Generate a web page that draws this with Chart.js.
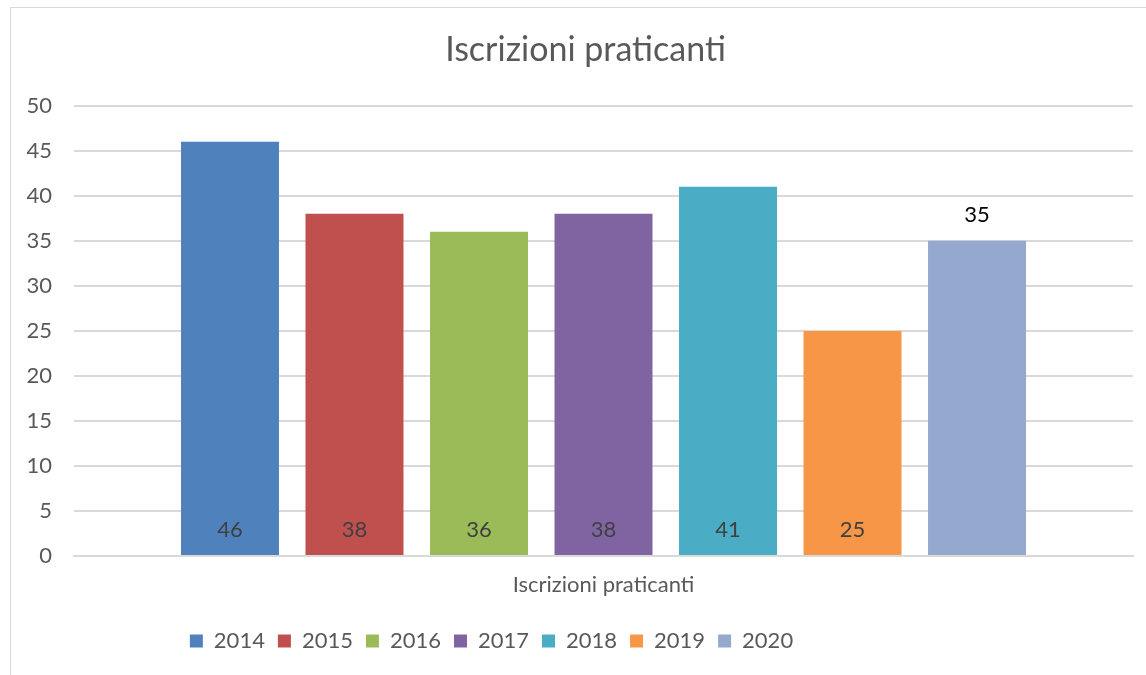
<!DOCTYPE html>
<html>
<head>
<meta charset="utf-8">
<script src="https://cdn.jsdelivr.net/npm/chart.js@4"></script>
<style>
  html, body { margin: 0; padding: 0; background: #fff; }
  #wrap { position: relative; width: 1146px; height: 675px; overflow: hidden; }
  #frame { position: absolute; left: 10px; top: 7px; width: 1150px; height: 700px; border: 1px solid #d9d9d9; box-sizing: border-box; }
  canvas { position: absolute; left: 0; top: 0; }
</style>
</head>
<body>
<div id="wrap">
  <div id="frame"></div>
  <canvas id="myChart" width="1146" height="675"></canvas>
</div>
<script>
var categories = ['Iscrizioni praticanti']
var years = ['2014', '2015', '2016', '2017', '2018', '2019', '2020']
var values = [46, 38, 36, 38, 41, 25, 35]
var yTicks = [0, 5, 10, 15, 20, 25, 30, 35, 40, 45, 50]

var colors = ['#4f81bd', '#c0504d', '#9bbb59', '#8064a2', '#4bacc6', '#f79646', '#95a9cf']
var fontFamily = 'Lato, "Open Sans", sans-serif'

var datasets = []
years.forEach(function(year, i) {
    datasets.push({
        label: year,
        data: [values[i]],
        backgroundColor: colors[i],
        borderWidth: 0,
        // last bar has its label above the bar, like the original
        labelAbove: i === years.length - 1
    })
}, this)

// draw the value labels (no datalabels plugin here)
var valueLabels = {
    id: 'valueLabels',
    afterDatasetsDraw: function(chart) {
        var ctx = chart.ctx
        ctx.save()
        ctx.font = '22px ' + fontFamily
        ctx.textAlign = 'center'
        ctx.textBaseline = 'middle'
        chart.data.datasets.forEach(function(ds, i) {
            var bar = chart.getDatasetMeta(i).data[0]
            if (ds.labelAbove) {
                ctx.fillStyle = '#000000'
                ctx.fillText(ds.data[0], bar.x, bar.y - 26)
            } else {
                ctx.fillStyle = '#404040'
                ctx.fillText(ds.data[0], bar.x, bar.base - 25)
            }
        })
        ctx.restore()
    }
}

// title is a bit right of centre and the legend a bit left in the original
var blockShift = {
    id: 'blockShift',
    afterLayout: function(chart) {
        chart.titleBlock.left += 14
        chart.titleBlock.right += 14
        chart.legend.left -= 80
        chart.legend.right -= 80
    }
}

var ctx = document.getElementById('myChart').getContext('2d')
var myChart = new Chart(ctx, {
    type: 'bar',
    data: {
        labels: categories,
        datasets: datasets
    },
    options: {
        responsive: false,
        animation: false,
        categoryPercentage: 0.823,
        barPercentage: 0.787,
        layout: { padding: { left: 10, right: 13, top: 20, bottom: 13 } },
        scales: {
            x: {
                afterFit: function(scale) { scale.height = 61 },
                grid: { display: false, drawTicks: false },
                border: { display: true, color: '#d9d9d9', width: 2 },
                ticks: { color: '#595959', font: { size: 22, family: fontFamily }, padding: 16 }
            },
            y: {
                min: 0,
                max: 50,
                afterBuildTicks: function(scale) {
                    scale.ticks = yTicks.map(function(v) { return { value: v } })
                },
                afterFit: function(scale) { scale.width = 64 },
                grid: { color: '#d9d9d9', lineWidth: 2, drawTicks: false },
                border: { display: false },
                ticks: { color: '#595959', font: { size: 22, family: fontFamily }, padding: 22 }
            }
        },
        plugins: {
            title: {
                display: true,
                text: 'Iscrizioni praticanti',
                color: '#595959',
                font: { size: 34, family: fontFamily, weight: 'normal' },
                padding: { top: 10, bottom: 35 }
            },
            legend: {
                position: 'bottom',
                labels: {
                    boxWidth: 13,
                    boxHeight: 13,
                    color: '#595959',
                    font: { size: 22, family: fontFamily },
                    padding: 13
                }
            },
            tooltip: { enabled: false }
        }
    },
    plugins: [valueLabels, blockShift]
})
</script>
</body>
</html>
